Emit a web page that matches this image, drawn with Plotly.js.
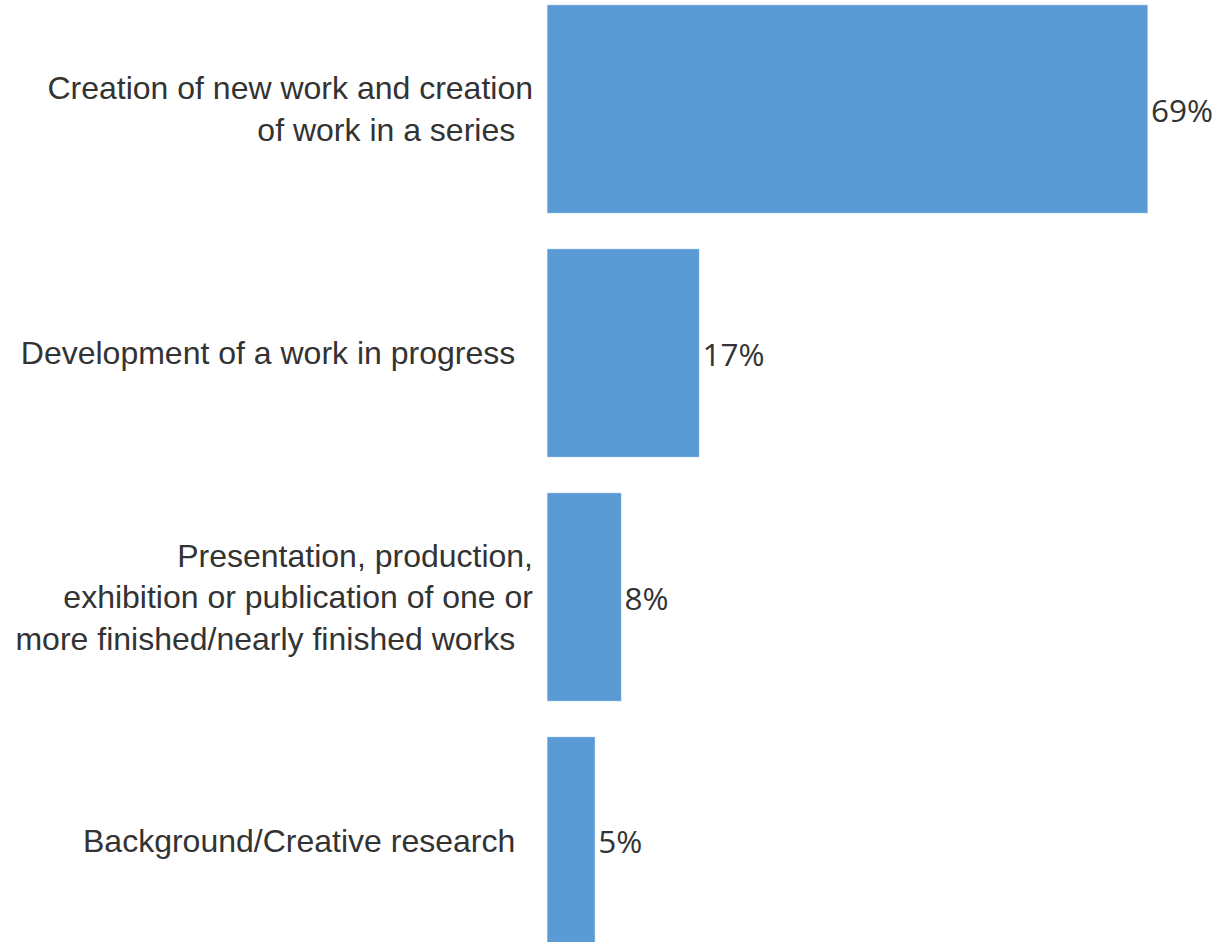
<!DOCTYPE html>
<html>
<head>
<meta charset="utf-8">
<script src="https://cdn.plot.ly/plotly-3.0.1.min.js"></script>
<style>html,body{margin:0;padding:0;background:#fff;}#chart{width:1218px;height:942px;}</style>
</head>
<body>
<div id="chart"></div>
<script>
var categories = [
  "Creation of new work and creation<br>of work in a series\u00a0\u00a0",
  "Development of a work in progress\u00a0\u00a0",
  "Presentation, production,<br>exhibition or publication of one or<br>more finished/nearly finished works\u00a0\u00a0",
  "Background/Creative research\u00a0\u00a0"
];
var values = [68.6, 17.4, 8.5, 5.5];
var valueLabels = ["69%", "17%", "8%", "5%"];

var trace = {
  type: "bar",
  orientation: "h",
  y: categories,
  x: values,
  text: valueLabels,
  textposition: "outside",
  constraintext: "none",
  cliponaxis: false,
  hoverinfo: "none",
  marker: {color: "#5B9BD5", line: {color: "rgba(255,255,255,0.6)", width: 1}},
  textfont: {family: "Open Sans", size: 31.5, color: "#333333"}
};

var layout = {
  width: 1218,
  height: 942,
  margin: {l: 547, r: 0, t: 0, b: 0, pad: 0},
  paper_bgcolor: "#ffffff",
  plot_bgcolor: "#ffffff",
  showlegend: false,
  bargap: 0.145,
  xaxis: {range: [0, 76.6], visible: false, showgrid: false, zeroline: false},
  yaxis: {
    type: "category",
    range: [3.414, -0.447],
    showgrid: false,
    zeroline: false,
    showline: false,
    ticks: "",
    ticklabelstandoff: 13,
    tickfont: {family: "Liberation Sans, Arial, sans-serif", size: 32, color: "#333333"}
  }
};

Plotly.newPlot("chart", [trace], layout, {displayModeBar: false, staticPlot: true});
</script>
</body>
</html>
